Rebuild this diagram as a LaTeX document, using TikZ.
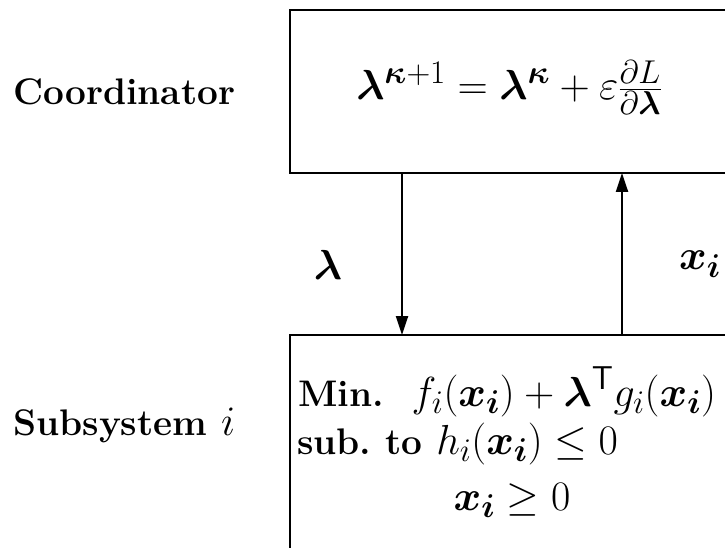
\RequirePackage{fix-cm}
\documentclass[tikz,border=0pt]{standalone}
\usepackage{amsmath,amssymb}
\usetikzlibrary{arrows.meta}
\DeclareMathSizes{37}{42}{33}{26}
\tikzset{
  boxline/.style={line width=2.8pt},
  conn/.style={line width=2.3pt,-{Triangle[width=12pt,length=19pt]}},
  big/.style={font=\fontsize{37}{44}\selectfont\bfseries,inner sep=0pt},
}
\begin{document}
\begin{tikzpicture}[x=1pt,y=-1pt]
\useasboundingbox (0,0) rectangle (725,548);
% coordinator box (cut off at the right)
\draw[boxline] (727,10) -- (290,10) -- (290,173) -- (727,173);
% subsystem box (cut off at right and bottom)
\draw[boxline] (727,335) -- (290,335) -- (290,550);
\coordinate (cdown) at (402,173);
\coordinate (sdown) at (402,335);
\coordinate (sup1) at (622,335);
\coordinate (cup1) at (622,173);
\draw[conn] (cdown) -- (sdown);
\draw[conn] (sup1) -- (cup1);
\node[big,anchor=west] (coord) at (13,92) {Coordinator};
\node[big,anchor=west] (subs) at (13,425) {Subsystem $i$};
\node[big,anchor=base] (upd) at (509,100) {$\boldsymbol{\lambda}^{\boldsymbol{\kappa}+1}=\boldsymbol{\lambda}^{\boldsymbol{\kappa}}+\varepsilon\frac{\partial L}{\partial\boldsymbol{\lambda}}$};
\node[big] (lam) at (328,265) {$\boldsymbol{\lambda}$};
\node[big] (xi) at (700,264) {$\boldsymbol{x_i}$};
\node[big,anchor=base west] (l1) at (298,406) {Min.\ \ $f_i(\boldsymbol{x_i})+\boldsymbol{\lambda}^{\mathsf{T}}g_i(\boldsymbol{x_i})$};
\node[big,anchor=base west] (l2) at (297,454) {sub.\ to $h_i(\boldsymbol{x_i})\le 0$};
\node[big,anchor=base] (l3) at (512,510) {$\boldsymbol{x_i}\ge 0$};
\end{tikzpicture}
\end{document}
